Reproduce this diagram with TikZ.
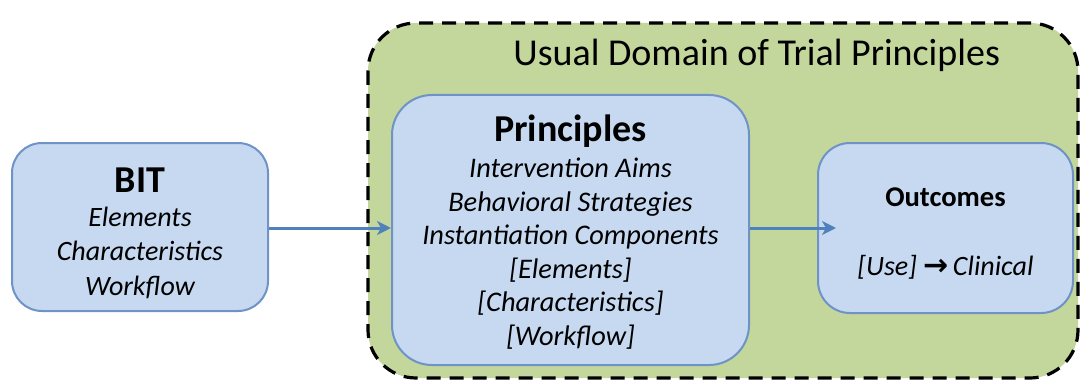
\documentclass[tikz,border=0pt]{standalone}
\usepackage{fontspec}
\setmainfont{Carlito}
\newfontfamily\dejavu{DejaVu Sans}
\usetikzlibrary{arrows.meta}
\definecolor{boxfill}{HTML}{C6D9F1}
\definecolor{boxline}{HTML}{6F93C6}
\definecolor{arrowblue}{HTML}{4F81BD}
\definecolor{domaingreen}{HTML}{C3D69B}
\tikzset{
  bluebox/.style={draw=boxline, line width=1pt, fill=boxfill, align=center, inner sep=0pt},
  flowarrow/.style={draw=arrowblue, line width=1.5pt, -{Stealth[length=7pt,width=7pt,inset=2pt]}},
  domainbox/.style={draw=black, fill=domaingreen, line width=1.6pt, dash pattern=on 7pt off 4.5pt, rounded corners=24pt},
  boxtext/.style={align=center, anchor=base, inner sep=0pt},
}
\begin{document}
\begin{tikzpicture}[x=0.5pt,y=-0.5pt]
\useasboundingbox (0,0) rectangle (1081,385);
% domain
\draw[domainbox] (368,23) rectangle (1078,378);
\node[boxtext, anchor=base west, font=\fontsize{19}{22}\selectfont] (domainlabel) at (513,66) {Usual Domain of Trial Principles};
% boxes
\node[bluebox, rounded corners=15pt, minimum width=128pt, minimum height=84pt] (bit) at (140,227) {};
\node[bluebox, rounded corners=20pt, minimum width=178.5pt, minimum height=135pt] (principles) at (570.5,230) {};
\node[bluebox, rounded corners=16pt, minimum width=127.5pt, minimum height=85pt] (outcomes) at (945.5,228) {};
% BIT text
\node[boxtext, font=\fontsize{19}{22}\selectfont\bfseries] (bittitle) at (bit.center |- 0,192) {BIT};
\node[boxtext, font=\fontsize{14}{17.2}\selectfont\itshape] (bittext) at (bit.center |- 0,295) {Elements\\Characteristics\\Workflow};
% Principles text
\node[boxtext, font=\fontsize{19}{22}\selectfont\bfseries] (prtitle) at (principles.center |- 0,141) {Principles};
\node[boxtext, font=\fontsize{14.2}{16.75}\selectfont\itshape] (prtext) at (principles.center |- 0,345) {Intervention Aims\\Behavioral Strategies\\Instantiation Components\\{}[Elements]\\{}[Characteristics]\\{}[Workflow]};
% Outcomes text
\node[boxtext, font=\fontsize{14.3}{16}\selectfont\bfseries] (outtitle) at (outcomes.center |- 0,206) {Outcomes};
\node[boxtext, font=\fontsize{14}{16}\selectfont] (outtext) at (outcomes.center |- 0,275) {\itshape [Use] {\upshape\dejavu\bfseries\fontsize{15}{16}\selectfont →}\,Clinical};
% arrows
\draw[flowarrow] (bit.east |- 0,228) -- (principles.west |- 0,228);
\draw[flowarrow] (principles.east |- 0,228) -- ([xshift=9.5pt]outcomes.west |- 0,228);
\end{tikzpicture}
\end{document}
